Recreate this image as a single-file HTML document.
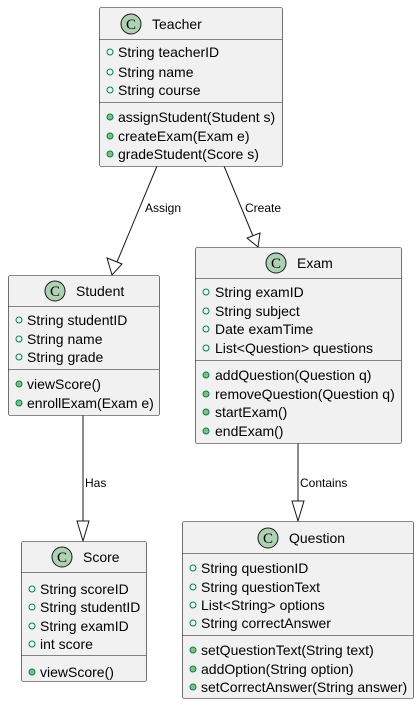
<!DOCTYPE html>
<html><head><style>body{margin:0;background:#fff}svg{display:block}</style></head><body>
<svg width="420" height="706" xmlns="http://www.w3.org/2000/svg" font-family="Liberation Sans, sans-serif">
<defs>
<g id="c"><circle r="10" fill="#ADD1B2" stroke="#181818" stroke-width="1"/><text y="5" text-anchor="middle" font-family="Liberation Serif, serif" font-size="15" fill="#000">C</text></g>
</defs>
<g stroke="#181818" fill="none" stroke-width="1">
<path d="M157,166 L117,262"/><polygon points="112,275 107,258 122,264" fill="#fff"/>
<path d="M224,166 L253,236"/><polygon points="258,247 247,238 260,233" fill="#fff"/>
<path d="M83,415 L83,522"/><polygon points="83,541 77,521 89,521" fill="#fff"/>
<path d="M298,443 L298,502"/><polygon points="298,521 292,501 304,501" fill="#fff"/>
</g>
<g font-size="12" fill="#000">
<text x="145" y="212">Assign</text>
<text x="245" y="212">Create</text>
<text x="85" y="487">Has</text>
<text x="300" y="487">Contains</text>
</g>
<g stroke="#181818" fill="#F1F1F1" stroke-width="0.6">
<rect x="99.5" y="7.5" width="183" height="159" rx="2"/>
<rect x="8.5" y="275.5" width="151" height="140" rx="2"/>
<rect x="195.5" y="247.5" width="206" height="196" rx="2"/>
<rect x="21.5" y="541.5" width="125" height="140" rx="2"/>
<rect x="182.5" y="521.5" width="231" height="177" rx="2"/>
</g>
<g stroke="#181818" stroke-width="0.6">
<line x1="99" y1="39.5" x2="282" y2="39.5"/><line x1="99" y1="102.5" x2="282" y2="102.5"/>
<line x1="8" y1="306.5" x2="159" y2="306.5"/><line x1="8" y1="369.5" x2="159" y2="369.5"/>
<line x1="195" y1="278.5" x2="401" y2="278.5"/><line x1="195" y1="360.5" x2="401" y2="360.5"/>
<line x1="21" y1="572.5" x2="146" y2="572.5"/><line x1="21" y1="655.5" x2="146" y2="655.5"/>
<line x1="182" y1="553.5" x2="413" y2="553.5"/><line x1="182" y1="635.5" x2="413" y2="635.5"/>
</g>
<use href="#c" x="131" y="24"/><use href="#c" x="55" y="291"/><use href="#c" x="276" y="263"/><use href="#c" x="62" y="557"/><use href="#c" x="268" y="538"/>
<g font-size="14" fill="#000">
<text x="152" y="29">Teacher</text>
<text x="76" y="296">Student</text>
<text x="297" y="268">Exam</text>
<text x="83" y="562">Score</text>
<text x="289" y="543">Question</text>
</g>
<g stroke="#038048" stroke-width="1" fill="none">
<circle cx="110" cy="52" r="3"/><circle cx="110" cy="72" r="3"/><circle cx="110" cy="90" r="3"/>
<circle cx="19" cy="320" r="3"/><circle cx="19" cy="339" r="3"/><circle cx="19" cy="357" r="3"/>
<circle cx="206" cy="292" r="3"/><circle cx="206" cy="311" r="3"/><circle cx="206" cy="329" r="3"/><circle cx="206" cy="348" r="3"/>
<circle cx="32" cy="589" r="3"/><circle cx="32" cy="607" r="3"/><circle cx="32" cy="626" r="3"/><circle cx="32" cy="644" r="3"/>
<circle cx="193" cy="568" r="3"/><circle cx="193" cy="587" r="3"/><circle cx="193" cy="605" r="3"/><circle cx="193" cy="623" r="3"/>
</g>
<g stroke="#038048" stroke-width="1" fill="#84BE84">
<circle cx="110" cy="117" r="3"/><circle cx="110" cy="136" r="3"/><circle cx="110" cy="154" r="3"/>
<circle cx="19" cy="384" r="3"/><circle cx="19" cy="403" r="3"/>
<circle cx="206" cy="375" r="3"/><circle cx="206" cy="394" r="3"/><circle cx="206" cy="412" r="3"/><circle cx="206" cy="431" r="3"/>
<circle cx="32" cy="672" r="3"/>
<circle cx="193" cy="650" r="3"/><circle cx="193" cy="669" r="3"/><circle cx="193" cy="687" r="3"/>
</g>
<g font-size="14" fill="#000">
<text x="118" y="57">String teacherID</text><text x="118" y="77">String name</text><text x="118" y="95">String course</text>
<text x="118" y="122">assignStudent(Student s)</text><text x="118" y="141">createExam(Exam e)</text><text x="118" y="159">gradeStudent(Score s)</text>
<text x="27" y="325">String studentID</text><text x="27" y="344">String name</text><text x="27" y="362">String grade</text>
<text x="27" y="389">viewScore()</text><text x="27" y="408">enrollExam(Exam e)</text>
<text x="215" y="297">String examID</text><text x="215" y="316">String subject</text><text x="215" y="334">Date examTime</text><text x="215" y="353">List&lt;Question&gt; questions</text>
<text x="215" y="380">addQuestion(Question q)</text><text x="215" y="399">removeQuestion(Question q)</text><text x="215" y="417">startExam()</text><text x="215" y="436">endExam()</text>
<text x="40" y="594">String scoreID</text><text x="40" y="612">String studentID</text><text x="40" y="631">String examID</text><text x="40" y="649">int score</text>
<text x="40" y="677">viewScore()</text>
<text x="201" y="573">String questionID</text><text x="201" y="592">String questionText</text><text x="201" y="610">List&lt;String&gt; options</text><text x="201" y="628">String correctAnswer</text>
<text x="201" y="655">setQuestionText(String text)</text><text x="201" y="674">addOption(String option)</text><text x="201" y="692">setCorrectAnswer(String answer)</text>
</g>
</svg>
</body></html>
